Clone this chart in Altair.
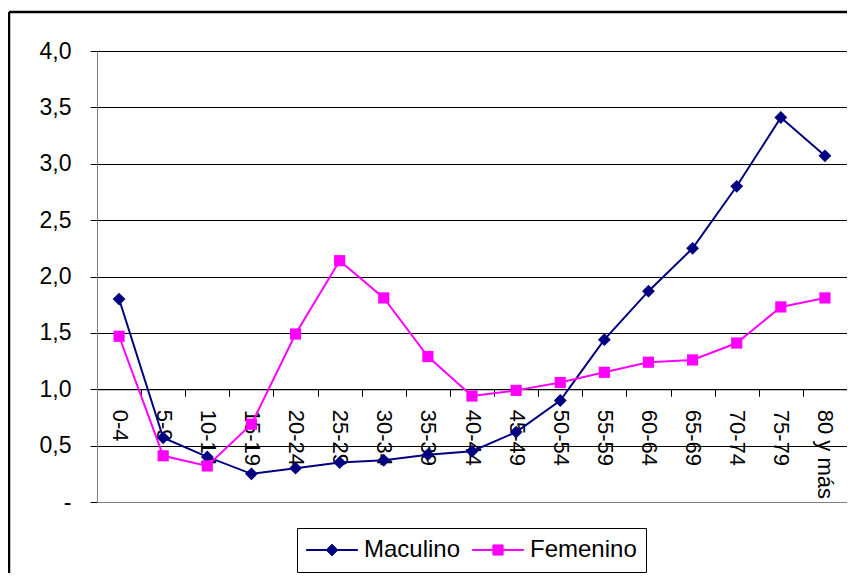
import altair as alt
import pandas as pd

# ---- data ----
grupos = ["0-4", "5-9", "10-14", "15-19", "20-24", "25-29", "30-34", "35-39",
          "40-44", "45-49", "50-54", "55-59", "60-64", "65-69", "70-74", "75-79", "80 y más"]
maculino = [1.80, 0.57, 0.40, 0.25, 0.30, 0.35, 0.37, 0.42, 0.45, 0.62, 0.90,
            1.44, 1.87, 2.25, 2.80, 3.41, 3.07]
femenino = [1.47, 0.41, 0.32, 0.69, 1.49, 2.14, 1.81, 1.29, 0.94, 0.99, 1.06,
            1.15, 1.24, 1.26, 1.41, 1.73, 1.81]
series = ["Maculino", "Femenino"]
colores = ["#000080", "#FF00FF"]
simbolos = ["diamond", "square"]
tamanos = [165, 125]
y_ticks = [0, 0.5, 1.0, 1.5, 2.0, 2.5, 3.0, 3.5, 4.0]

rows = []
for s, vals in zip(series, [maculino, femenino]):
    for g, v in zip(grupos, vals):
        rows.append({"grupo": g, "serie": s, "valor": v})
df = pd.DataFrame(rows)

# ---- layout ----
W, H = 750, 451
PAD_L, PAD_T = 89, 43
SVG_W, SVG_H = 839, 565
FONT = "Liberation Sans"

x_enc = alt.X("grupo:N", sort=grupos,
              scale=alt.Scale(type="band", paddingInner=0, paddingOuter=0),
              axis=alt.Axis(title=None, orient="bottom", offset=-H / 4,
                            labelAngle=90, labelFontSize=22, labelFont=FONT,
                            labelColor="black", labelPadding=13, labelLimit=0,
                            tickBand="extent", tickSize=7, tickColor="black",
                            domainColor="black", domainWidth=1, grid=False))
y_enc = alt.Y("valor:Q",
              scale=alt.Scale(domain=[0, 4], nice=False, zero=True),
              axis=alt.Axis(title=None, values=y_ticks,
                            labelExpr="datum.value == 0 ? '-' : replace(format(datum.value, '.1f'), '.', ',')",
                            labelFontSize=23, labelFont=FONT, labelColor="black",
                            labelPadding=19, tickSize=7, tickColor="black",
                            domainColor="#808080", domainWidth=1,
                            grid=True, gridWidth=1,
                            gridColor={"condition": {"test": "datum.value === 0", "value": "#808080"},
                                       "value": "#000000"}))

# legend symbol: short line (thin filled bar) with the series marker in the middle
path_d = "M-1,-0.02L1,-0.02L1,0.02L-1,0.02ZM-0.23,0L0,-0.23L0.23,0L0,0.23Z"
path_s = "M-1,-0.02L1,-0.02L1,0.02L-1,0.02ZM-0.2,-0.2L0.2,-0.2L0.2,0.2L-0.2,0.2Z"
es_m = "datum.value === '%s'" % series[0]

legend = alt.Legend(
    title=None, orient="none", legendX=200, legendY=477, direction="horizontal",
    labelFontSize=24, labelFont=FONT, labelColor="black", labelLimit=0,
    labelOffset=6, columnPadding=11, padding=9, clipHeight=26,
    strokeColor="black", fillColor="white", symbolSize=2601,
    symbolStrokeWidth=1, symbolOpacity=1,
    symbolType=alt.ExprRef("%s ? '%s' : '%s'" % (es_m, path_d, path_s)),
    symbolFillColor=alt.ExprRef("%s ? '%s' : '%s'" % (es_m, colores[0], colores[1])),
    symbolStrokeColor=alt.ExprRef("%s ? '%s' : '%s'" % (es_m, colores[0], colores[1])),
)

color_scale = alt.Scale(domain=series, range=colores)

lineas = alt.Chart(df).mark_line(strokeWidth=2).encode(
    x=x_enc, y=y_enc,
    color=alt.Color("serie:N", scale=color_scale, legend=legend),
)

# markers: one layer per series, fixed marker shape and size (no extra scales)
capas_puntos = []
for s, forma, tam in zip(series, simbolos, tamanos):
    capas_puntos.append(
        alt.Chart(df).transform_filter(alt.datum.serie == s).mark_point(
            filled=True, opacity=1, shape=forma, size=tam
        ).encode(
            x=x_enc, y=y_enc,
            color=alt.Color("serie:N", scale=color_scale, legend=None),
        )
    )

# chart-area border (top and left edges visible in the reference), kept inside the svg
marco = alt.Data(values=[{"k": 1}])
borde_sup = alt.Chart(marco).mark_rule(color="black", strokeWidth=2.5).encode(
    x=alt.value(-PAD_L + 1), x2=alt.value(SVG_W - PAD_L), y=alt.value(-PAD_T + 4),
)
borde_izq = alt.Chart(marco).mark_rule(color="black", strokeWidth=2.5).encode(
    x=alt.value(-PAD_L + 1), y=alt.value(-PAD_T + 4), y2=alt.value(SVG_H - PAD_T),
)

chart = alt.layer(borde_sup, borde_izq, lineas, *capas_puntos).properties(
    width=W, height=H,
    autosize=alt.AutoSizeParams(type="none"),
    padding={"left": PAD_L, "top": PAD_T, "right": SVG_W - PAD_L - W, "bottom": SVG_H - PAD_T - H},
).configure_view(strokeWidth=0).configure(font=FONT, background="white")

chart.save("out.html", embed_options={"renderer": "svg", "actions": False})
